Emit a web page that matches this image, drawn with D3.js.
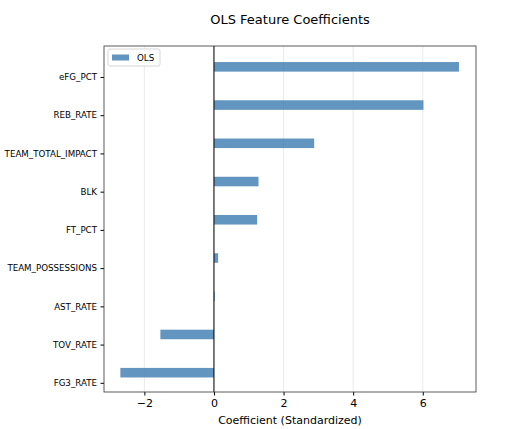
<!DOCTYPE html>
<html>
<head>
<meta charset="utf-8">
<script src="https://cdn.jsdelivr.net/npm/d3@7"></script>
<style>
  body { margin: 0; background: #fff; }
  text { font-family: "DejaVu Sans", sans-serif; fill: #000; }
</style>
</head>
<body>
<div class="graph"></div>
<script>
// features bottom -> top, as matplotlib barh stacks them
const features = ["FG3_RATE", "TOV_RATE", "AST_RATE", "TEAM_POSSESSIONS", "FT_PCT", "BLK", "TEAM_TOTAL_IMPACT", "REB_RATE", "eFG_PCT"];
const olsValues = [-2.69, -1.54, 0.02, 0.12, 1.24, 1.28, 2.88, 6.02, 7.04];
const xTicks = [-2, 0, 2, 4, 6];

const W = 505, H = 429;
const margins = { top: 46, right: 29, bottom: 37, left: 104 };
const width = W - margins.left - margins.right;
const height = H - margins.top - margins.bottom;

const svg = d3.select(".graph")
  .append("svg")
  .attr("width", W)
  .attr("height", H);

const g = svg.append("g")
  .attr("transform", `translate(${margins.left},${margins.top})`);

const x = d3.scaleLinear().domain([-3.16, 7.53]).range([0, width]);
const y = d3.scaleLinear().domain([-0.24, 8.81]).range([height, 0]);

// grid
g.selectAll(".grid")
  .data(xTicks)
  .enter()
  .append("line")
  .attr("x1", (d) => x(d))
  .attr("x2", (d) => x(d))
  .attr("y1", 0)
  .attr("y2", height)
  .attr("stroke", "#e6e6e6")
  .attr("stroke-width", 0.8);

// bars (offset above the tick like a grouped barh)
const barH = y(0) - y(0.25);
g.selectAll(".bar")
  .data(features.map((f, i) => ({ f, i, v: olsValues[i] })))
  .enter()
  .append("rect")
  .attr("x", (d) => x(Math.min(0, d.v)))
  .attr("y", (d) => y(d.i + 0.39))
  .attr("width", (d) => Math.abs(x(d.v) - x(0)))
  .attr("height", barH)
  .attr("fill", "#4682b4")
  .attr("fill-opacity", 0.85);

// zero line
g.append("line")
  .attr("x1", x(0)).attr("x2", x(0))
  .attr("y1", 0).attr("y2", height)
  .attr("stroke", "#000")
  .attr("stroke-width", 1);

// axes
const xAxis = d3.axisBottom(x).tickValues(xTicks).tickSize(3.5).tickPadding(3.5)
  .tickFormat((d) => (d < 0 ? "\u2212" + Math.abs(d) : d));
const yAxis = d3.axisLeft(y).tickValues(features.map((f, i) => i)).tickSize(3.5).tickPadding(3.5)
  .tickFormat((d) => features[d]);

const gx = g.append("g")
  .attr("class", "x axis")
  .attr("transform", `translate(0,${height})`)
  .call(xAxis);
gx.select(".domain").remove();
gx.selectAll("text").style("font-size", "11px");

const gy = g.append("g").attr("class", "y axis").call(yAxis);
gy.select(".domain").remove();
gy.selectAll("text").style("font-size", "8.7px");

// frame
g.append("rect")
  .attr("width", width)
  .attr("height", height)
  .attr("fill", "none")
  .attr("stroke", "#333")
  .attr("stroke-width", 0.8);

// legend
const legend = g.append("g").attr("transform", "translate(4,3)");
legend.append("rect")
  .attr("width", 52).attr("height", 17)
  .attr("fill", "#fff").attr("fill-opacity", 0.8)
  .attr("stroke", "#ccc").attr("stroke-width", 0.8).attr("rx", 2);
legend.append("rect")
  .attr("x", 4).attr("y", 5.5).attr("width", 17).attr("height", 6)
  .attr("fill", "#4682b4").attr("fill-opacity", 0.85);
legend.append("text")
  .attr("x", 29).attr("y", 11.5)
  .style("font-size", "8.7px")
  .text("OLS");

// labels
svg.append("text")
  .attr("x", margins.left + width / 2)
  .attr("y", 24)
  .attr("text-anchor", "middle")
  .style("font-size", "13px")
  .text("OLS Feature Coefficients");

svg.append("text")
  .attr("x", margins.left + width / 2)
  .attr("y", 424)
  .attr("text-anchor", "middle")
  .style("font-size", "11px")
  .text("Coefficient (Standardized)");
</script>
</body>
</html>
